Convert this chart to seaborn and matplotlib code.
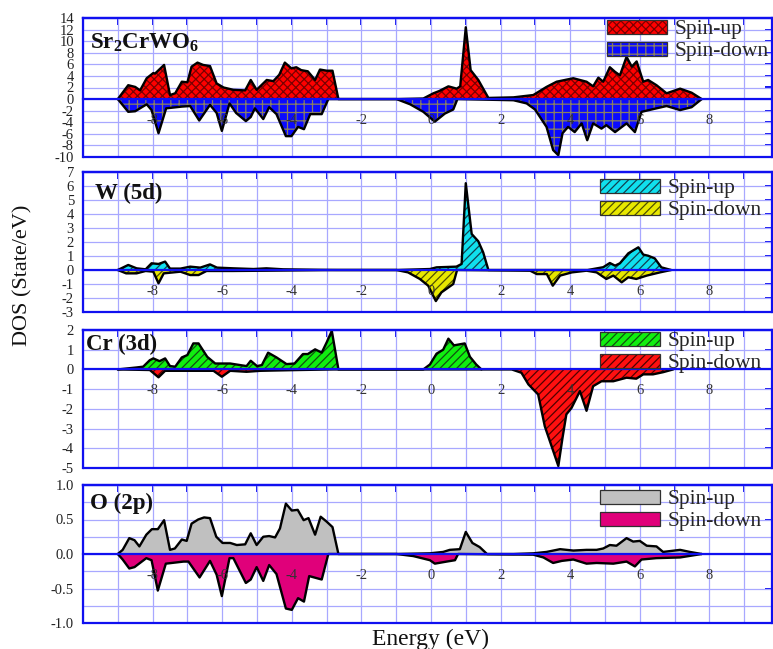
import numpy as np
import matplotlib
matplotlib.use('Agg')
import matplotlib.pyplot as plt
import seaborn as sns
from matplotlib.patches import Patch
from matplotlib.legend_handler import HandlerTuple
from matplotlib.ticker import MultipleLocator, FixedLocator, NullFormatter, FormatStrFormatter

# ---------------- data ----------------
SR_UP_E = [-9.0,-8.7,-8.5,-8.36,-8.17,-7.98,-7.93,-7.67,-7.5,-7.35,-7.16,-7.0,-6.88,-6.71,-6.55,-6.35,-6.16,-5.96,-5.68,-5.34,
           -5.18,-5.01,-4.72,-4.53,-4.36,-4.2,-4.01,-3.87,-3.73,-3.54,-3.33,-3.19,-3.0,-2.83,-2.66,
           -0.99,-0.22,0.07,0.24,0.5,0.74,0.84,1.0,1.14,1.36,1.65,2.37,2.94,3.32,3.61,4.09,4.47,4.66,4.81,4.95,
           5.14,5.29,5.43,5.62,5.77,5.91,6.1,6.24,6.48,6.77,7.16,7.49,7.78]
SR_UP = [0,2.4,2.1,1.5,3.6,4.5,4.4,5.9,0.7,1.0,3.0,2.9,5.6,6.3,5.9,5.7,2.7,2.0,1.6,1.5,
         3.3,1.6,3.3,3.1,4.2,6.3,5.3,5.5,5.0,4.8,3.3,5.1,4.9,4.9,0,
         0,0.1,1.0,1.4,2.2,1.8,2.2,12.4,5.0,3.3,0.2,0.3,0.7,2.1,3.0,3.6,3.0,2.2,3.7,3.0,
         5.5,4.7,4.1,7.3,5.6,6.5,3.0,3.3,2.4,1.0,1.8,1.1,0]
SR_DN_E = [-9.0,-8.7,-8.5,-8.17,-8.03,-7.83,-7.61,-7.16,-6.92,-6.66,-6.35,-6.16,-6.01,-5.79,-5.6,-5.32,-5.18,-5.06,-4.82,-4.65,
           -4.44,-4.17,-4.01,-3.82,-3.65,-3.47,-3.14,-2.95,
           -0.99,-0.6,-0.22,0.11,0.4,0.64,0.76,2.37,2.75,2.99,3.32,3.51,3.66,3.78,3.94,4.13,4.33,4.49,4.66,4.9,5.04,5.29,
           5.62,5.86,6.05,6.48,6.77,7.16,7.49,7.78]
SR_DN = [0,-2.2,-2.1,-0.9,-1.9,-5.9,-1.6,-1.3,-1.2,-3.7,-1.0,-2.4,-5.5,-0.75,-2.4,-3.8,-3.1,-1.6,-3.45,-1.4,
         -2.6,-6.4,-6.4,-4.8,-5.2,-2.6,-2.6,0,
         0,-0.9,-2.2,-3.9,-2.5,-1.8,0,-0.2,-0.75,-1.8,-4.8,-8.8,-9.7,-5.9,-4.8,-5.7,-4.2,-7.1,-4.2,-5.1,-4.5,-5.7,
         -4.2,-5.7,-2.2,-1.6,-1.2,-1.9,-1.4,0]

W_UP_E = [-9.0,-8.7,-8.46,-8.2,-8.03,-7.83,-7.64,-7.5,-7.2,-6.92,-6.63,-6.35,-6.15,-5.68,-5.1,-4.73,-4.25,-3.3,-2.7,
          -0.99,-0.03,0.16,0.73,0.88,1.0,1.17,1.36,1.5,1.65,4.5,4.66,4.95,5.14,5.29,5.43,5.67,5.96,6.1,6.24,6.43,6.62,6.9]
W_UP = [0,0.36,0.12,0.05,0.48,0.43,0.6,0.1,0.1,0.24,0.17,0.4,0.17,0.12,0.07,0.12,0.05,0.02,0,
        0,0.07,0.19,0.24,0.43,6.2,2.57,2.05,1.26,0,0,0.07,0.2,0.5,0.31,0.48,1.19,1.62,1.1,1.02,0.83,0.19,0]
W_DN_E = [-9.0,-8.76,-8.46,-8.2,-7.98,-7.83,-7.68,-7.2,-6.92,-6.68,-6.45,-5.7,-4.7,-2.7,
          -0.99,-0.66,-0.32,-0.08,0.14,0.3,0.64,0.75,2.85,3.04,3.33,3.5,3.71,4.05,4.47,4.76,5.04,5.24,5.48,5.67,5.9,6.2,6.58,6.9]
W_DN = [0,-0.24,-0.24,-0.07,-0.12,-0.95,-0.24,-0.12,-0.36,-0.36,-0.07,-0.07,-0.05,0,
        0,-0.17,-0.64,-1.12,-2.22,-1.6,-1.0,0,-0.05,-0.29,-0.29,-1.12,-0.4,-0.17,-0.05,-0.17,-0.64,-0.4,-0.88,-0.52,-0.64,-0.4,-0.17,0]

CR_UP_E = [-9.0,-8.46,-8.27,-8.08,-7.98,-7.8,-7.64,-7.5,-7.35,-7.16,-7.0,-6.83,-6.68,-6.43,-6.2,-5.77,-5.3,-5.18,-5.0,-4.86,
           -4.68,-4.44,-4.15,-3.92,-3.68,-3.54,-3.33,-3.14,-2.99,-2.85,-2.66,
           -0.93,-0.22,-0.03,0.16,0.35,0.5,0.66,0.97,1.12,1.3,1.45]
CR_UP = [0,0.1,0.14,0.47,0.56,0.42,0.56,0.17,0.14,0.61,0.73,1.32,1.32,0.64,0.3,0.3,0.17,0.44,0.17,0.22,
         0.85,0.61,0.27,0.3,0.78,0.78,1.02,0.85,1.4,1.96,0,
         0,0.0,0.25,0.8,1.0,1.56,1.22,1.32,0.64,0.25,0]
CR_DN_E = [-9.0,-8.08,-7.83,-7.64,-6.25,-6.01,-5.77,-5.3,-4.9,-3.8,-2.8,
           -0.93,2.32,2.6,2.8,3.08,3.27,3.66,3.78,3.89,4.04,4.28,4.47,4.66,4.9,5.24,5.43,5.62,5.9,6.1,6.38,6.67,6.96]
CR_DN = [0,-0.03,-0.4,-0.07,-0.07,-0.37,-0.07,-0.12,-0.07,-0.03,0,
         0,0,-0.17,-0.76,-1.27,-2.88,-4.9,-3.47,-2.28,-1.95,-1.1,-2.1,-0.85,-0.6,-0.6,-0.51,-0.42,-0.47,-0.25,-0.25,-0.14,0]

O_UP_E = [-9.0,-8.86,-8.67,-8.52,-8.38,-8.18,-8.02,-7.85,-7.67,-7.5,-7.36,-7.16,-7.02,-6.88,-6.69,-6.52,-6.35,-6.17,-5.99,-5.77,
          -5.58,-5.34,-5.18,-5.01,-4.82,-4.65,-4.48,-4.34,-4.17,-4.0,-3.83,-3.66,-3.52,-3.33,-3.17,-3.0,-2.83,-2.66,
          -0.99,-0.03,0.35,0.54,0.83,1.0,1.19,1.4,1.61,2.37,2.94,3.32,3.71,4.09,4.47,4.76,4.95,5.14,5.33,5.62,5.81,6.0,
          6.2,6.48,6.67,7.16,7.44,7.78]
O_UP = [0,0.06,0.23,0.2,0.11,0.28,0.36,0.36,0.49,0.06,0.08,0.21,0.19,0.44,0.5,0.53,0.52,0.25,0.16,0.16,
        0.13,0.14,0.3,0.13,0.25,0.26,0.24,0.37,0.73,0.63,0.64,0.49,0.52,0.28,0.54,0.47,0.39,0,
        0,0.01,0.03,0.06,0.07,0.32,0.16,0.1,0,0,0.01,0.03,0.07,0.05,0.06,0.06,0.08,0.13,0.12,0.23,0.18,0.19,
        0.12,0.11,0.03,0.06,0.03,0]
O_DN_E = [-9.0,-8.86,-8.67,-8.52,-8.18,-8.03,-7.85,-7.62,-7.11,-6.97,-6.65,-6.35,-6.16,-6.01,-5.79,-5.68,-5.32,-5.18,-5.01,-4.82,
          -4.65,-4.44,-4.17,-4.0,-3.82,-3.65,-3.5,-3.14,-2.95,
          -0.99,-0.51,-0.03,0.11,0.45,0.69,0.78,2.94,3.23,3.51,3.76,4.09,4.28,4.47,4.76,5.24,5.62,5.86,6.05,6.48,7.16,7.78]
O_DN = [0,-0.08,-0.21,-0.19,-0.06,-0.09,-0.53,-0.14,-0.11,-0.11,-0.34,-0.1,-0.3,-0.61,-0.06,-0.06,-0.42,-0.37,-0.19,-0.39,
        -0.16,-0.29,-0.79,-0.81,-0.64,-0.69,-0.32,-0.37,0,
        0,-0.03,-0.09,-0.14,-0.11,-0.09,0,-0.01,-0.05,-0.13,-0.1,-0.08,-0.11,-0.14,-0.13,-0.14,-0.11,-0.18,-0.08,-0.06,-0.05,0]

PANEL_LABELS = [r'$\mathbf{Sr_2CrWO_6}$', 'W (5d)', 'Cr (3d)', 'O (2p)']
LEGEND_LABELS = ['Spin-up', 'Spin-down']
X_TICKS = [-8, -6, -4, -2, 0, 2, 4, 6, 8]

# ---------------- style ----------------
sns.set_style('white')
plt.rcParams['font.family'] = ['Liberation Serif', 'DejaVu Serif']
plt.rcParams['mathtext.fontset'] = 'custom'
plt.rcParams['mathtext.bf'] = 'Liberation Serif:bold'
plt.rcParams['mathtext.rm'] = 'Liberation Serif'
plt.rcParams['axes.unicode_minus'] = False
plt.rcParams['hatch.linewidth'] = 0.9

BLUE = '#1010f0'
GRID = '#a8a8ff'
W_PX, H_PX = 773, 649
fig = plt.figure(figsize=(W_PX / 100, H_PX / 100), dpi=100)


def rect(top, bottom, left=83, right=772):
    return [left / W_PX, 1 - bottom / H_PX, (right - left) / W_PX, (bottom - top) / H_PX]


panels = [
    dict(up=(SR_UP_E, SR_UP), dn=(SR_DN_E, SR_DN), box=(18, 157), ylim=(-10, 14), maj=2, mnr=1, fmt='%d',
         gridstep=2, upc='#ff0000', uph='xxxx', uphc='#7a0000', dnc='#0a0aff', dnh='++', dnhc='#8a8060',
         lab_xy=(90, 43), leg_xy=(607, 20)),
    dict(up=(W_UP_E, W_UP), dn=(W_DN_E, W_DN), box=(172, 312), ylim=(-3, 7), maj=1, mnr=0.5, fmt='%d',
         gridstep=1, upc='#10e0ee', uph='////', uphc='#104050', dnc='#e8e800', dnh='////', dnhc='#505000',
         lab_xy=(95, 193), leg_xy=(600, 179)),
    dict(up=(CR_UP_E, CR_UP), dn=(CR_DN_E, CR_DN), box=(330, 468), ylim=(-5, 2), maj=1, mnr=0.5, fmt='%d',
         gridstep=1, upc='#10ee10', uph='////', uphc='#105010', dnc='#ff1010', dnh='////', dnhc='#500000',
         lab_xy=(86, 344), leg_xy=(600, 332)),
    dict(up=(O_UP_E, O_UP), dn=(O_DN_E, O_DN), box=(485, 623), ylim=(-1, 1), maj=0.5, mnr=0.25, fmt='%.1f',
         gridstep=0.25, upc='#c0c0c0', uph=None, uphc=None, dnc='#e0007a', dnh=None, dnhc=None,
         lab_xy=(90, 503), leg_xy=(600, 490)),
]


def draw_spin(ax, E, v, color, hatch, hatchcol):
    E = np.asarray(E, float)
    v = np.asarray(v, float)
    ax.fill_between(E, v, 0, facecolor=color, edgecolor='none', linewidth=0, zorder=1)
    if hatch:
        ax.fill_between(E, v, 0, facecolor='none', edgecolor=hatchcol, hatch=hatch, linewidth=0, zorder=1.1)
    sns.lineplot(x=E, y=v, sort=False, estimator=None, color='black', linewidth=1.7, ax=ax, zorder=2, legend=False)


def legend_handle(color, hatch, hatchcol):
    parts = [Patch(facecolor=color, edgecolor='none')]
    if hatch:
        parts.append(Patch(facecolor='none', edgecolor=hatchcol, hatch=hatch, linewidth=0))
    parts.append(Patch(facecolor='none', edgecolor='#303030', linewidth=0.9))
    return tuple(parts)


for i, p in enumerate(panels):
    ax = fig.add_axes(rect(*p['box']))
    y0, y1 = p['ylim']
    # light grid underneath the fills
    ax.vlines(np.arange(-10, 10, 1), y0, y1, colors=GRID, lw=0.9, zorder=0.3)
    ax.hlines(np.arange(y0, y1 + 1e-9, p['gridstep']), -10, 9.8, colors=GRID, lw=0.9, zorder=0.3)

    draw_spin(ax, *p['up'], p['upc'], p['uph'], p['uphc'])
    draw_spin(ax, *p['dn'], p['dnc'], p['dnh'], p['dnhc'])
    ax.set_xlim(-10, 9.8)
    ax.set_ylim(y0, y1)
    ax.set_xlabel('')
    ax.set_ylabel('')
    ax.grid(False)
    ax.set_axisbelow(False)

    # x axis drawn on the zero line
    ax.spines['bottom'].set_position(('data', 0))
    ax.spines['bottom'].set_color(BLUE)
    ax.spines['bottom'].set_linewidth(1.6)
    for s in ['left', 'right', 'top']:
        ax.spines[s].set_color(BLUE)
        ax.spines[s].set_linewidth(1.6)
    ax.axhline(y0, color=BLUE, lw=1.6, clip_on=False, zorder=3)

    ax.xaxis.set_major_locator(FixedLocator(X_TICKS))
    ax.xaxis.set_minor_locator(MultipleLocator(1))
    ax.xaxis.set_major_formatter(FormatStrFormatter('%d'))
    ax.tick_params(axis='x', which='both', direction='out', length=4, width=1.2, color=BLUE,
                   labelsize=10.5, pad=6.5, labelcolor='#333333')

    ax.yaxis.set_major_locator(MultipleLocator(p['maj']))
    ax.yaxis.set_minor_locator(MultipleLocator(p['mnr']))
    ax.yaxis.set_major_formatter(FormatStrFormatter(p['fmt']))
    ax.tick_params(axis='y', which='both', direction='out', length=5, width=1.2, color=BLUE,
                   labelsize=10.5, pad=1.5, labelcolor='#222222')

    top = ax.secondary_xaxis('top')
    top.xaxis.set_major_locator(MultipleLocator(1))
    top.xaxis.set_major_formatter(NullFormatter())
    top.tick_params(direction='in', length=5, width=1.4, color=BLUE)
    top.spines['top'].set_color(BLUE)
    top.spines['top'].set_linewidth(1.6)

    right = ax.secondary_yaxis('right')
    right.yaxis.set_major_locator(MultipleLocator(p['maj']))
    right.yaxis.set_major_formatter(NullFormatter())
    right.tick_params(direction='in', length=5, width=1.4, color=BLUE)
    right.spines['right'].set_color(BLUE)

    # panel label
    fig.text(p['lab_xy'][0] / W_PX, 1 - p['lab_xy'][1] / H_PX, PANEL_LABELS[i], fontsize=16.5,
             fontweight='bold', ha='left', va='center', color='#111111')

    # legend
    handles = [legend_handle(p['upc'], p['uph'], p['uphc']), legend_handle(p['dnc'], p['dnh'], p['dnhc'])]
    ax.legend(handles, LEGEND_LABELS, handler_map={tuple: HandlerTuple(ndivide=1, pad=0)},
              loc='upper left', bbox_to_anchor=(p['leg_xy'][0] / W_PX, 1 - p['leg_xy'][1] / H_PX),
              bbox_transform=fig.transFigure, frameon=False, fontsize=15.5, handlelength=2.8,
              handleheight=0.6, handletextpad=0.35, labelspacing=0.12, borderpad=0, borderaxespad=0)

fig.text(23 / W_PX, 1 - 275 / H_PX, 'DOS (State/eV)', rotation=90, ha='center', va='center',
         fontsize=16, color='#111111')
fig.text(430 / W_PX, 1 - 639 / H_PX, 'Energy (eV)', ha='center', va='center', fontsize=17, color='#111111')

fig.savefig('out.png', dpi=100)
